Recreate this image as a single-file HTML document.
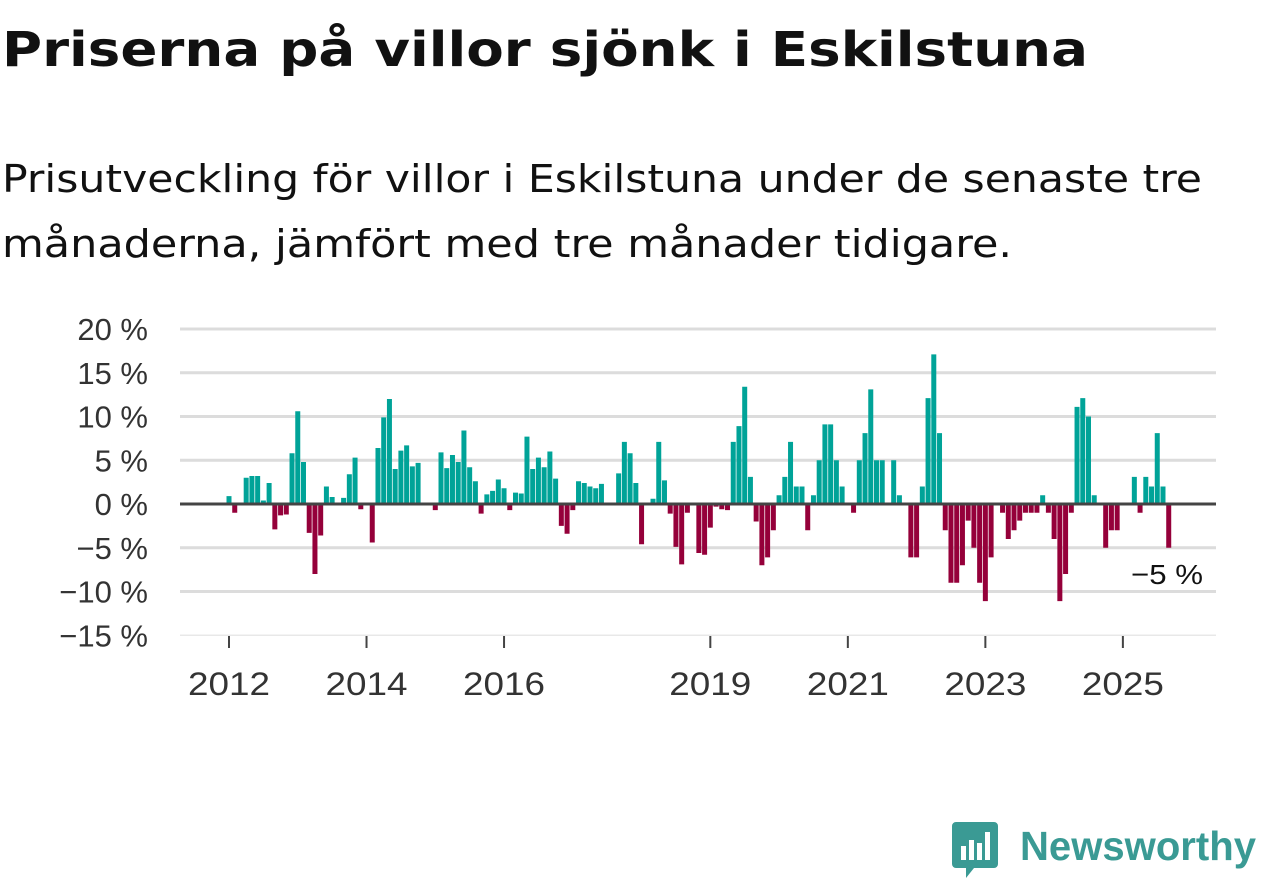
<!DOCTYPE html>
<html><head><meta charset="utf-8"><style>
html,body{margin:0;padding:0;background:#fff;}
svg{display:block;font-family:"Liberation Sans",sans-serif;}
.dj{font-family:"DejaVu Sans","Liberation Sans",sans-serif;}
</style></head><body>
<svg id="chart" width="1262" height="879" viewBox="0 0 1262 879">
<text class="dj" x="2" y="66" font-size="48" font-weight="bold" fill="#111" textLength="1086" lengthAdjust="spacingAndGlyphs">Priserna på villor sjönk i Eskilstuna</text>
<text class="dj" x="2" y="192" font-size="38" fill="#111" textLength="1200" lengthAdjust="spacingAndGlyphs">Prisutveckling för villor i Eskilstuna under de senaste tre</text>
<text class="dj" x="2" y="257" font-size="38" fill="#111" textLength="1010" lengthAdjust="spacingAndGlyphs">månaderna, jämfört med tre månader tidigare.</text>
<g id="grid"></g><g id="bars"></g><g id="xaxis"></g>
<text x="1203" y="584" font-size="28" fill="#111" text-anchor="end" textLength="72" lengthAdjust="spacingAndGlyphs">−5 %</text>
<g>
<path d="M956 822 h38 a4 4 0 0 1 4 4 v38 a4 4 0 0 1 -4 4 h-20 l-8 10 v-10 h-10 a4 4 0 0 1 -4 -4 v-38 a4 4 0 0 1 4 -4z" fill="#3a9a94"/>
<rect x="961" y="846" width="5" height="14" fill="#fff"/><rect x="969" y="840" width="5" height="20" fill="#fff"/><rect x="977" y="843" width="5" height="17" fill="#fff"/><rect x="985" y="832" width="5" height="28" fill="#fff"/>
<text x="1020" y="860" font-size="41" font-weight="bold" fill="#3a9a94" textLength="236" lengthAdjust="spacingAndGlyphs">Newsworthy</text>
</g>
</svg>
<script>
const values = [0.9,-1.0,0,3.0,3.2,3.2,0.4,2.4,-2.9,-1.3,-1.2,5.8,10.6,4.8,-3.3,-8.0,-3.6,2.0,0.8,0,0.7,3.4,5.3,-0.6,0,-4.4,6.4,9.9,12.0,4.0,6.1,6.7,4.3,4.7,0,0,-0.7,5.9,4.1,5.6,4.8,8.4,4.2,2.6,-1.1,1.1,1.5,2.8,1.8,-0.7,1.3,1.2,7.7,4.0,5.3,4.2,6.0,2.9,-2.5,-3.4,-0.7,2.6,2.4,2.0,1.8,2.3,0,0,3.5,7.1,5.8,2.4,-4.6,0,0.6,7.1,2.7,-1.1,-4.9,-6.9,-1.0,0,-5.6,-5.8,-2.7,-0.3,-0.6,-0.7,7.1,8.9,13.4,3.1,-2.0,-7.0,-6.1,-3.0,1.0,3.1,7.1,2.0,2.0,-3.0,1.0,5.0,9.1,9.1,5.0,2.0,0,-1.0,5.0,8.1,13.1,5.0,5.0,0,5.0,1.0,0,-6.1,-6.1,2.0,12.1,17.1,8.1,-3.0,-9.0,-9.0,-7.0,-1.9,-5.0,-9.0,-11.1,-6.1,0,-1.0,-4.0,-3.0,-1.9,-1.0,-1.0,-1.0,1.0,-1.0,-4.0,-11.1,-8.0,-1.0,11.1,12.1,10.0,1.0,0,-5.0,-3.0,-3.0,0,0,3.1,-1.0,3.1,2.0,8.1,2.0,-5.0];
const startYear = 2012;
const yTicks = [20,15,10,5,0,-5,-10,-15];
const yTickLabels = ["20 %","15 %","10 %","5 %","0 %","−5 %","−10 %","−15 %"];
const xTickYears = [2012,2014,2016,2019,2021,2023,2025];

const NS="http://www.w3.org/2000/svg";
const y = v => 504 - v*8.75;
const xm = i => 229 + i*5.73;
const xYear = yr => xm((yr-startYear)*12);
function mk(tag, attrs, parent){const e=document.createElementNS(NS,tag);for(const k in attrs)e.setAttribute(k,attrs[k]);parent.appendChild(e);return e;}
const grid=document.getElementById('grid'), bars=document.getElementById('bars'), xa=document.getElementById('xaxis');
yTicks.forEach((t,k)=>{
  if(t!==0){const l=mk('line',{x1:180,x2:1216,y1:y(t),y2:y(t),stroke:t===-15?'#e8e8e8':'#dcdcdc','stroke-width':t===-15?1.5:3},grid);
  
  }
  const tx=mk('text',{x:148,y:y(t)+11,'font-size':31,fill:'#333','text-anchor':'end'},grid);
  tx.textContent=yTickLabels[k];
  
  
});
values.forEach((v,i)=>{
  if(v===0)return;
  const r=mk('rect',{x:xm(i)-2.5,width:5,y:v>0?y(v):y(0),height:Math.abs(v)*8.75,fill:v>0?'#00a398':'#95003a'},bars);
  
  
});
const z=mk('line',{x1:180,x2:1216,y1:y(0),y2:y(0),stroke:'#444','stroke-width':3},bars);


xTickYears.forEach(yr=>{
  const t=mk('line',{x1:xYear(yr),x2:xYear(yr),y1:636,y2:648,stroke:'#444','stroke-width':2},xa);
  
  
  const tx=mk('text',{x:xYear(yr)-41,y:695,'font-size':32,fill:'#333',textLength:82,lengthAdjust:'spacingAndGlyphs'},xa);
  tx.textContent=yr;
  
  
});
</script>
</body></html>
